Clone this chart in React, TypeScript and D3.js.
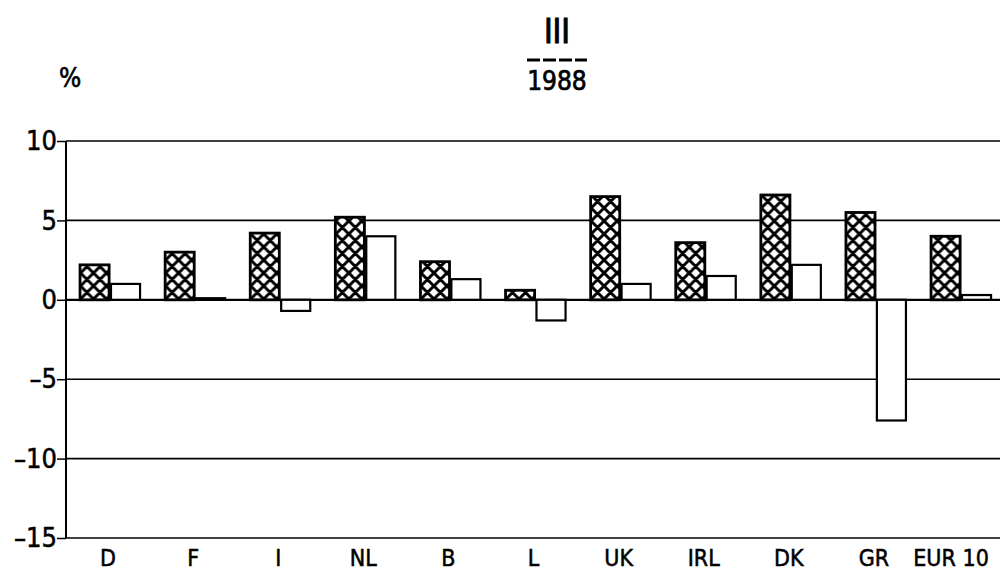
import React, { useRef, useEffect } from "react";
import * as d3 from "d3";

// chart values
const countries = ["D", "F", "I", "NL", "B", "L", "UK", "IRL", "DK", "GR", "EUR 10"];
const hatchedValues = [2.2, 3.0, 4.2, 5.2, 2.4, 0.6, 6.5, 3.6, 6.6, 5.5, 4.0];
const plainValues = [1.0, 0.1, -0.7, 4.0, 1.3, -1.3, 1.0, 1.5, 2.2, -7.6, 0.3];
const yTicks = [10, 5, 0, -5, -10, -15];

const App = () => {
  const svgRef = useRef<SVGSVGElement>(null);

  useEffect(() => {
    const width = 1000;
    const height = 572;
    const margin = { top: 141, left: 66, bottom: 34 };
    const font = "'DejaVu Sans Condensed', 'DejaVu Sans', sans-serif";

    const svg = d3.select(svgRef.current);
    svg.selectAll("*").remove();
    svg.attr("width", width).attr("height", height);

    // cross-hatch pattern for the first series
    const p = 13;
    const defs = svg.append("defs");
    const pat = defs
      .append("pattern")
      .attr("id", "xhatch")
      .attr("patternUnits", "userSpaceOnUse")
      .attr("width", p)
      .attr("height", p);
    pat.append("rect").attr("width", p).attr("height", p).attr("fill", "#fff");
    pat
      .append("path")
      .attr(
        "d",
        `M-2,2 L2,-2 M0,${p} L${p},0 M${p - 2},${p + 2} L${p + 2},${p - 2} ` +
          `M-2,${p - 2} L2,${p + 2} M0,0 L${p},${p} M${p - 2},-2 L${p + 2},2`
      )
      .attr("stroke", "#000")
      .attr("stroke-width", 3);

    const x0 = d3
      .scaleBand()
      .domain(countries)
      .range([67.5, 1003.6])
      .padding(0);

    const bw = x0.bandwidth();
    const x1 = d3
      .scaleBand()
      .domain(["hatched", "plain"])
      .range([bw / 2 - 30, bw / 2 + 30])
      .paddingInner(0.06);

    const y = d3
      .scaleLinear()
      .domain([-15, 10])
      .range([height - margin.bottom, margin.top]);

    // grid lines
    svg
      .append("g")
      .selectAll("line")
      .data(yTicks)
      .join("line")
      .attr("x1", margin.left)
      .attr("x2", width)
      .attr("y1", (d) => y(d))
      .attr("y2", (d) => y(d))
      .attr("stroke", "#000")
      .attr("stroke-width", (d) => (d === 0 ? 2.2 : 1.6));

    // left axis
    const yAxis = svg
      .append("g")
      .attr("transform", `translate(${margin.left},0)`)
      .call(
        d3
          .axisLeft(y)
          .tickValues(yTicks)
          .tickSize(9)
          .tickPadding(0)
          .tickFormat((d) => (+d < 0 ? "\u2013" + Math.abs(+d) : String(d)))
      );
    yAxis.select(".domain").attr("stroke-width", 2).attr("d", `M0,${y(10)}V${y(-15)}`);
    yAxis.selectAll(".tick line").attr("stroke-width", 1.5);
    yAxis
      .selectAll(".tick text")
      .attr("font-family", font)
      .attr("font-size", 27)
      .attr("fill", "#000")
      .attr("stroke", "#000")
      .attr("stroke-width", 0.5);

    // bars
    const groups = svg
      .append("g")
      .selectAll("g")
      .data(countries)
      .join("g")
      .attr("transform", (d) => `translate(${x0(d)},0)`);

    groups
      .append("rect")
      .attr("x", x1("hatched")!)
      .attr("width", x1.bandwidth())
      .attr("y", (_, i) => y(Math.max(0, hatchedValues[i])))
      .attr("height", (_, i) => Math.abs(y(hatchedValues[i]) - y(0)))
      .attr("fill", "url(#xhatch)")
      .attr("stroke", "#000")
      .attr("stroke-width", 2.8);

    groups
      .append("rect")
      .attr("x", x1("plain")!)
      .attr("width", x1.bandwidth())
      .attr("y", (_, i) => y(Math.max(0, plainValues[i])))
      .attr("height", (_, i) => Math.abs(y(plainValues[i]) - y(0)))
      .attr("fill", "#fff")
      .attr("stroke", "#000")
      .attr("stroke-width", 2.2);

    // category labels
    svg
      .append("g")
      .selectAll("text")
      .data(countries)
      .join("text")
      .attr("x", (d) => x0(d)! + bw / 2 - (d === "EUR 10" ? 10 : 2))
      .attr("y", 566)
      .attr("text-anchor", "middle")
      .attr("font-family", font)
      .attr("font-size", 23)
      .attr("stroke", "#000")
      .attr("stroke-width", 0.5)
      .text((d) => d);

    // title block
    svg
      .append("text")
      .attr("x", 557)
      .attr("y", 43)
      .attr("text-anchor", "middle")
      .attr("font-family", font)
      .attr("font-size", 33)
      .attr("stroke", "#000")
      .attr("stroke-width", 1)
      .text("III");
    svg
      .append("line")
      .attr("x1", 527)
      .attr("x2", 587)
      .attr("y1", 60)
      .attr("y2", 60)
      .attr("stroke", "#000")
      .attr("stroke-width", 3)
      .attr("stroke-dasharray", "13,3");
    svg
      .append("text")
      .attr("x", 557)
      .attr("y", 90)
      .attr("text-anchor", "middle")
      .attr("font-family", font)
      .attr("font-size", 26)
      .attr("stroke", "#000")
      .attr("stroke-width", 0.7)
      .text("1988");
    svg
      .append("text")
      .attr("x", 70)
      .attr("y", 87)
      .attr("text-anchor", "middle")
      .attr("font-family", font)
      .attr("font-size", 26)
      .attr("stroke", "#000")
      .attr("stroke-width", 0.6)
      .text("%");
  }, []);

  return (
    <div style={{ position: "absolute", left: 0, top: 0 }}>
      <svg ref={svgRef}></svg>
    </div>
  );
};

export default App;
